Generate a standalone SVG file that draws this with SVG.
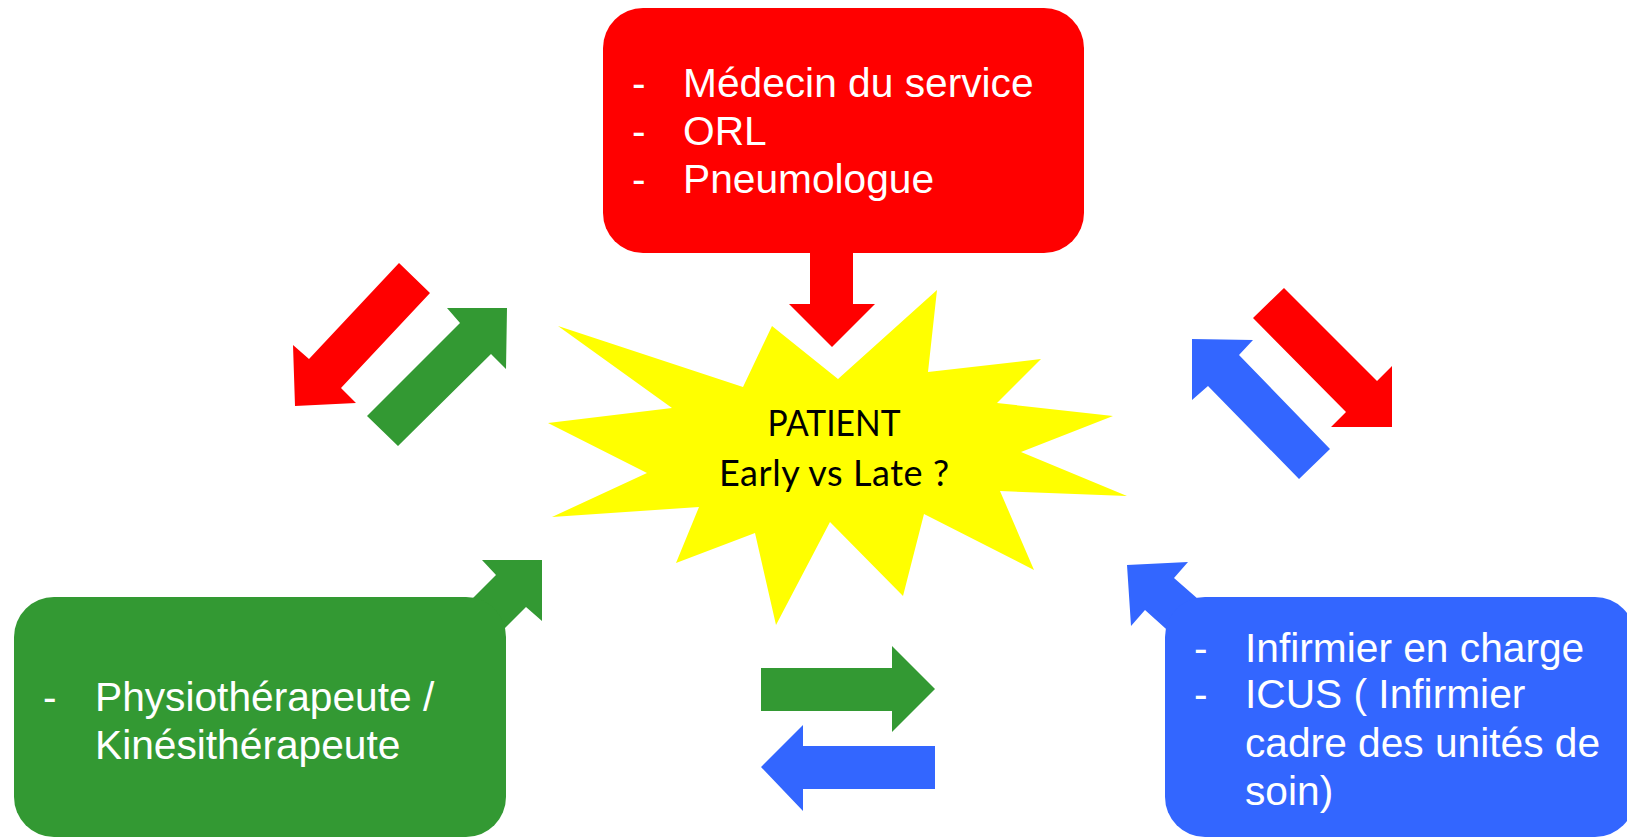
<svg xmlns="http://www.w3.org/2000/svg" width="1627" height="839" viewBox="0 0 1627 839">
  <style>
    .red { fill: #FF0000; }
    .green { fill: #339933; }
    .blue { fill: #3366FF; }
    .star { fill: #FFFF00; }
    .box-text { font-family: "Liberation Sans", Arial, sans-serif; font-size: 40.7px; fill: #FFFFFF; }
    .star-text { font-family: Lato, "Open Sans", sans-serif; font-size: 36px; fill: #000000; text-anchor: middle; }
  </style>
  <rect width="1627" height="839" fill="#FFFFFF"/>

  <!-- block arrows between the care team and the patient -->
  <g id="connectors">
    <!-- physician box down to patient -->
    <polygon class="red" points="810,253 853,253 853,304 875,304 832,347 789,304 810,304"/>
    <!-- left pair -->
    <polygon class="red" points="399,263 430,293 341,388 356,403 295,406 293,345 309,359"/>
    <polygon class="green" points="398,446 367,416 460,323 447,308 507,308 506,369 491,354"/>
    <!-- right pair -->
    <polygon class="red" points="1284,288 1253,318 1346,412 1331,427 1392,427 1392,366 1377,381"/>
    <polygon class="blue" points="1192,339 1253,340 1239,355 1330,449 1299,479 1208,386 1192,400"/>
    <!-- bottom pair -->
    <polygon class="green" points="761,668 892,668 892,646 935,689 892,732 892,711 761,711"/>
    <polygon class="blue" points="935,746 803,746 803,725 761,767 803,811 803,789 935,789"/>
    <!-- from physiotherapist box -->
    <polygon class="green" points="542,560 482,560 496,575 436,635 466,667 526,607 542,621"/>
    <!-- from nursing box -->
    <polygon class="blue" points="1127,565 1188,562 1174,578 1230,627 1185,646 1145,610 1131,626"/>
  </g>

  <g id="node-medecins">
    <rect class="red" x="603" y="8" width="481" height="245" rx="40" ry="40"/>
    <text class="box-text" x="632" y="97">-</text>
    <text class="box-text" x="683" y="97">Médecin du service</text>
    <text class="box-text" x="632" y="145">-</text>
    <text class="box-text" x="683" y="145">ORL</text>
    <text class="box-text" x="632" y="193">-</text>
    <text class="box-text" x="683" y="193">Pneumologue</text>
  </g>

  <g id="node-patient">
    <polygon class="star" points="558,326 743,387 772,326 838,379 937,290 928,372 1041,359 997,403 1113,416 1021,452 1127,496 1000,491 1034,570 924,514 903,596 830,522 776,625 755,533 676,563 699,507 552,517 647,473 548,423 672,408"/>
    <text class="star-text" x="834" y="436" textLength="133" lengthAdjust="spacingAndGlyphs">PATIENT</text>
    <text class="star-text" x="834" y="486" textLength="230" lengthAdjust="spacing">Early vs Late ?</text>
  </g>

  <g id="node-physio">
    <rect class="green" x="14" y="597" width="492" height="240" rx="40" ry="40"/>
    <text class="box-text" x="43" y="711">-</text>
    <text class="box-text" x="95" y="711">Physiothérapeute /</text>
    <text class="box-text" x="95" y="759">Kinésithérapeute</text>
  </g>

  <g id="node-infirmier">
    <rect class="blue" x="1165" y="597" width="470" height="240" rx="40" ry="40"/>
    <text class="box-text" x="1194" y="662">-</text>
    <text class="box-text" x="1245" y="662">Infirmier en charge</text>
    <text class="box-text" x="1194" y="708">-</text>
    <text class="box-text" x="1245" y="708">ICUS ( Infirmier</text>
    <text class="box-text" x="1245" y="757">cadre des unités de</text>
    <text class="box-text" x="1245" y="805">soin)</text>
  </g>
</svg>
